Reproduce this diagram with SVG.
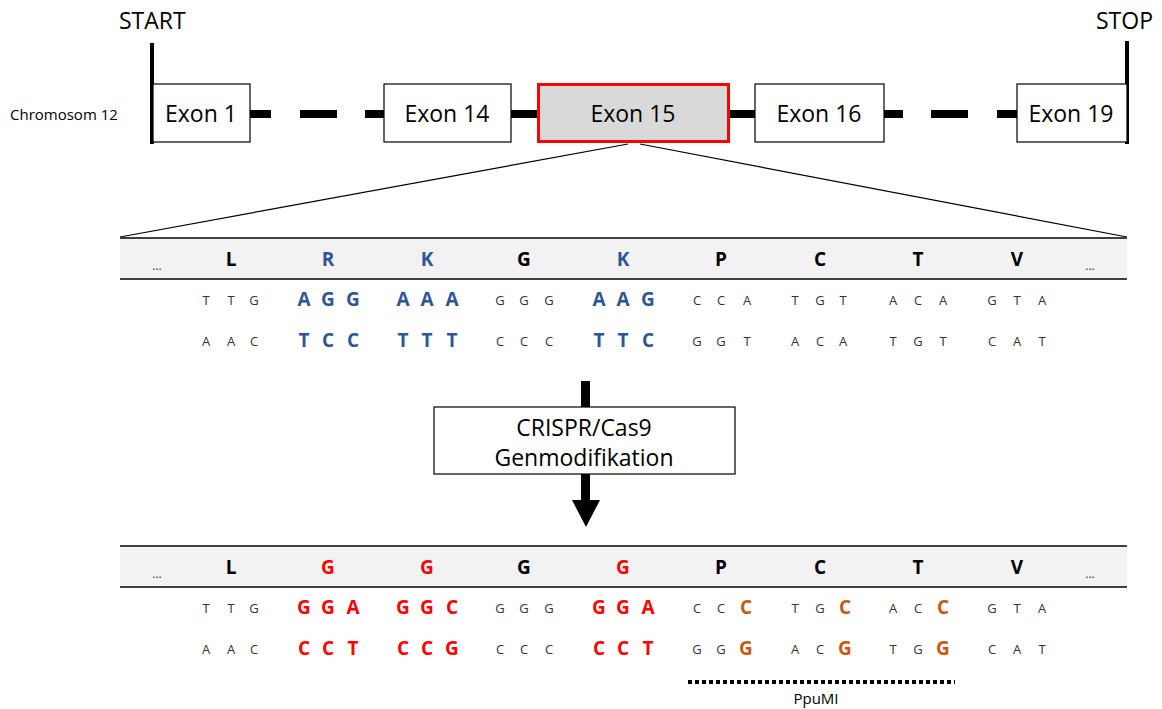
<svg xmlns="http://www.w3.org/2000/svg" width="1162" height="709" viewBox="0 0 1162 709">
<style>
text{font-family:"Open Sans","Liberation Sans",sans-serif;fill:#000}
.big{font-size:23px}
.exl{font-size:23px;text-anchor:middle}
.box{fill:#fff;stroke:#000;stroke-width:1.2}
.aa{font-size:19px;font-weight:bold;text-anchor:middle}
.dots{font-size:12px;text-anchor:middle;fill:#333}
.n{font-size:13px;text-anchor:middle;fill:#333}
.b{font-size:19px;font-weight:bold;text-anchor:middle}
.blue{fill:#2f5597}
.red{fill:#ff0000}
.org{fill:#c55a11}
.band{fill:#f2f2f2}
.bl{stroke:#404040;stroke-width:2}
</style>
<g id="labels">
<text class="big" x="119" y="29">START</text>
<text class="big" x="1096" y="29">STOP</text>
<text x="10" y="120" style="font-size:15px">Chromosom 12</text>
</g>
<g id="connectors" stroke="#000">
<line x1="152" y1="43" x2="152" y2="144" stroke-width="4"/>
<line x1="1127" y1="41" x2="1127" y2="144" stroke-width="4"/>
<g stroke-width="8">
<line x1="250" y1="114" x2="271" y2="114"/>
<line x1="300" y1="114" x2="337" y2="114"/>
<line x1="365" y1="114" x2="384" y2="114"/>
<line x1="511" y1="114" x2="537" y2="114"/>
<line x1="729" y1="114" x2="755" y2="114"/>
<line x1="884" y1="114" x2="903" y2="114"/>
<line x1="931" y1="114" x2="968" y2="114"/>
<line x1="997" y1="114" x2="1017" y2="114"/>
</g>
<line x1="628" y1="144" x2="120" y2="237" stroke-width="1.2"/>
<line x1="640" y1="144" x2="1127" y2="237" stroke-width="1.2"/>
<line x1="585.5" y1="381" x2="585.5" y2="407" stroke-width="9"/>
<line x1="585.5" y1="474" x2="585.5" y2="501" stroke-width="9"/>
<polygon points="572,500 600,500 586,527" fill="#000" stroke="none"/>
<line x1="688" y1="682" x2="955" y2="682" stroke-width="4" stroke-dasharray="4,3"/>
</g>
<g id="exon1"><rect class="box" x="153" y="84" width="97" height="58"/><text class="exl" x="201" y="122">Exon 1</text></g>
<g id="exon14"><rect class="box" x="384" y="84" width="127" height="58"/><text class="exl" x="447" y="122">Exon 14</text></g>
<g id="exon15"><rect x="538.5" y="84.5" width="190" height="57" fill="#d9d9d9" stroke="#ff0000" stroke-width="3"/><text class="exl" x="633" y="122">Exon 15</text></g>
<g id="exon16"><rect class="box" x="755" y="84" width="129" height="58"/><text class="exl" x="819" y="122">Exon 16</text></g>
<g id="exon19"><rect class="box" x="1017" y="84" width="110" height="58"/><text class="exl" x="1071" y="122">Exon 19</text></g>

<g id="seq-original">
<rect class="band" x="120" y="238" width="1007" height="41"/>
<line class="bl" x1="120" y1="238" x2="1127" y2="238"/>
<line class="bl" x1="120" y1="279" x2="1127" y2="279"/>
<text class="dots" x="157" y="270">...</text>
<text class="aa" x="231" y="266">L</text>
<text class="aa blue" x="328" y="266">R</text>
<text class="aa blue" x="427" y="266">K</text>
<text class="aa" x="524" y="266">G</text>
<text class="aa blue" x="623" y="266">K</text>
<text class="aa" x="721" y="266">P</text>
<text class="aa" x="820" y="266">C</text>
<text class="aa" x="918" y="266">T</text>
<text class="aa" x="1017" y="266">V</text>
<text class="dots" x="1090" y="270">...</text>
<g>
<text class="n" x="206" y="305">T</text><text class="n" x="231" y="305">T</text><text class="n" x="254" y="305">G</text>
<text class="b blue" x="304" y="306">A</text><text class="b blue" x="328" y="306">G</text><text class="b blue" x="353" y="306">G</text>
<text class="b blue" x="403" y="306">A</text><text class="b blue" x="427" y="306">A</text><text class="b blue" x="452" y="306">A</text>
<text class="n" x="500" y="305">G</text><text class="n" x="524" y="305">G</text><text class="n" x="549" y="305">G</text>
<text class="b blue" x="599" y="306">A</text><text class="b blue" x="623" y="306">A</text><text class="b blue" x="648" y="306">G</text>
<text class="n" x="697" y="305">C</text><text class="n" x="721" y="305">C</text><text class="n" x="747" y="305">A</text>
<text class="n" x="795" y="305">T</text><text class="n" x="820" y="305">G</text><text class="n" x="843" y="305">T</text>
<text class="n" x="893" y="305">A</text><text class="n" x="918" y="305">C</text><text class="n" x="943" y="305">A</text>
<text class="n" x="992" y="305">G</text><text class="n" x="1017" y="305">T</text><text class="n" x="1042" y="305">A</text>
</g>
<g>
<text class="n" x="206" y="346">A</text><text class="n" x="231" y="346">A</text><text class="n" x="254" y="346">C</text>
<text class="b blue" x="304" y="347">T</text><text class="b blue" x="328" y="347">C</text><text class="b blue" x="353" y="347">C</text>
<text class="b blue" x="403" y="347">T</text><text class="b blue" x="427" y="347">T</text><text class="b blue" x="452" y="347">T</text>
<text class="n" x="500" y="346">C</text><text class="n" x="524" y="346">C</text><text class="n" x="549" y="346">C</text>
<text class="b blue" x="599" y="347">T</text><text class="b blue" x="623" y="347">T</text><text class="b blue" x="648" y="347">C</text>
<text class="n" x="697" y="346">G</text><text class="n" x="721" y="346">G</text><text class="n" x="747" y="346">T</text>
<text class="n" x="795" y="346">A</text><text class="n" x="820" y="346">C</text><text class="n" x="843" y="346">A</text>
<text class="n" x="893" y="346">T</text><text class="n" x="918" y="346">G</text><text class="n" x="943" y="346">T</text>
<text class="n" x="992" y="346">C</text><text class="n" x="1017" y="346">A</text><text class="n" x="1042" y="346">T</text>
</g>
</g>

<g id="crispr">
<rect class="box" x="434" y="407" width="301" height="67"/>
<text class="exl" x="584" y="436">CRISPR/Cas9</text>
<text class="exl" x="584" y="466">Genmodifikation</text>
</g>

<g id="seq-modified">
<rect class="band" x="120" y="546" width="1007" height="41"/>
<line class="bl" x1="120" y1="546" x2="1127" y2="546"/>
<line class="bl" x1="120" y1="587" x2="1127" y2="587"/>
<text class="dots" x="157" y="578">...</text>
<text class="aa" x="231" y="574">L</text>
<text class="aa red" x="328" y="574">G</text>
<text class="aa red" x="427" y="574">G</text>
<text class="aa" x="524" y="574">G</text>
<text class="aa red" x="623" y="574">G</text>
<text class="aa" x="721" y="574">P</text>
<text class="aa" x="820" y="574">C</text>
<text class="aa" x="918" y="574">T</text>
<text class="aa" x="1017" y="574">V</text>
<text class="dots" x="1090" y="578">...</text>
<g>
<text class="n" x="206" y="613">T</text><text class="n" x="231" y="613">T</text><text class="n" x="254" y="613">G</text>
<text class="b red" x="304" y="614">G</text><text class="b red" x="328" y="614">G</text><text class="b red" x="353" y="614">A</text>
<text class="b red" x="403" y="614">G</text><text class="b red" x="427" y="614">G</text><text class="b red" x="452" y="614">C</text>
<text class="n" x="500" y="613">G</text><text class="n" x="524" y="613">G</text><text class="n" x="549" y="613">G</text>
<text class="b red" x="599" y="614">G</text><text class="b red" x="623" y="614">G</text><text class="b red" x="648" y="614">A</text>
<text class="n" x="697" y="613">C</text><text class="n" x="721" y="613">C</text><text class="b org" x="746" y="614">C</text>
<text class="n" x="795" y="613">T</text><text class="n" x="820" y="613">G</text><text class="b org" x="845" y="614">C</text>
<text class="n" x="893" y="613">A</text><text class="n" x="918" y="613">C</text><text class="b org" x="943" y="614">C</text>
<text class="n" x="992" y="613">G</text><text class="n" x="1017" y="613">T</text><text class="n" x="1042" y="613">A</text>
</g>
<g>
<text class="n" x="206" y="654">A</text><text class="n" x="231" y="654">A</text><text class="n" x="254" y="654">C</text>
<text class="b red" x="304" y="655">C</text><text class="b red" x="328" y="655">C</text><text class="b red" x="353" y="655">T</text>
<text class="b red" x="403" y="655">C</text><text class="b red" x="427" y="655">C</text><text class="b red" x="452" y="655">G</text>
<text class="n" x="500" y="654">C</text><text class="n" x="524" y="654">C</text><text class="n" x="549" y="654">C</text>
<text class="b red" x="599" y="655">C</text><text class="b red" x="623" y="655">C</text><text class="b red" x="648" y="655">T</text>
<text class="n" x="697" y="654">G</text><text class="n" x="721" y="654">G</text><text class="b org" x="746" y="655">G</text>
<text class="n" x="795" y="654">A</text><text class="n" x="820" y="654">C</text><text class="b org" x="845" y="655">G</text>
<text class="n" x="893" y="654">T</text><text class="n" x="918" y="654">G</text><text class="b org" x="943" y="655">G</text>
<text class="n" x="992" y="654">C</text><text class="n" x="1017" y="654">A</text><text class="n" x="1042" y="654">T</text>
</g>
<text x="816" y="704" style="font-size:15px;text-anchor:middle">PpuMI</text>
</g>
</svg>
